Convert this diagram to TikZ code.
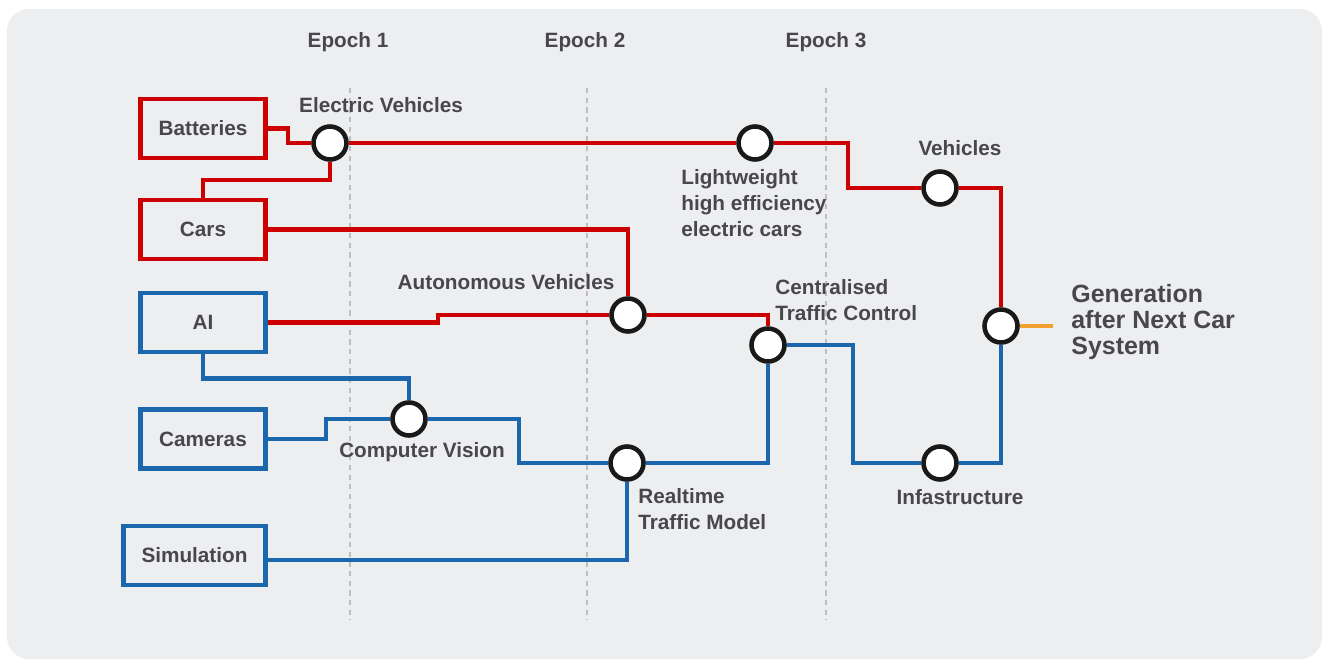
\documentclass[tikz,border=0pt]{standalone}
\usepackage{fontspec}
\setmainfont{Liberation Sans}
\usetikzlibrary{backgrounds}
\definecolor{bgray}{RGB}{237,238,240}
\definecolor{txtgray}{RGB}{72,72,74}
\definecolor{lred}{RGB}{204,0,0}
\definecolor{lblue}{RGB}{27,102,172}
\definecolor{lorange}{RGB}{242,160,48}
\definecolor{dashgray}{RGB}{190,190,192}
\begin{document}
\begin{tikzpicture}
		[	x=0.02cm,y=-0.02cm,
		box/.style={rectangle,draw,line width=2.4pt,fill=none,minimum width=2.5cm,minimum height=1.18cm,
			font=\bfseries\fontsize{11.8}{15}\selectfont,text=txtgray},
		stop/.style={circle,draw=black!90,line width=2.6pt,fill=white,minimum size=0.66cm,inner sep=0pt},
		lbl/.style={draw=none,fill=none,font=\bfseries\fontsize{11.8}{15}\selectfont,text=txtgray,inner sep=0pt},
		redline/.style={draw=lred,line width=2.3pt},
		blueline/.style={draw=lblue,line width=2.3pt},
		epochline/.style={draw=dashgray,line width=1.2pt,dash pattern=on 3pt off 2.5pt}
		]
		\useasboundingbox (0,0) rectangle (1324,661);
% boxes
		\node[box,draw=lred] (bat) at (203,128.5){Batteries};
		\node[box,draw=lred] (cars) at (203,229.5){Cars};
		\node[box,draw=lblue] (ai) at (203,322.5){AI};
		\node[box,draw=lblue] (cam) at (203,439){Cameras};
		\node[box,draw=lblue,minimum width=2.84cm] (sim) at (194.5,555.5){Simulation};
% stops
		\node[stop] (ev) at (330,143){};
		\node[stop] (light) at (755,143){};
		\node[stop] (veh) at (940,188){};
		\node[stop] (gen) at (1001,326){};
		\node[stop] (auto) at (628,315){};
		\node[stop] (cent) at (768,345){};
		\node[stop] (cv) at (409,419){};
		\node[stop] (rt) at (627,463){};
		\node[stop] (inf) at (940,463){};
% labels
\node[lbl] (ep1) at (348,42){Epoch 1};
\node[lbl] (ep2) at (585,42){Epoch 2};
\node[lbl] (ep3) at (826,42){Epoch 3};
\node[lbl] (evlbl) at (381,105){Electric Vehicles};
\node[lbl,align=left,anchor=west] (lightlbl) at (681,203){Lightweight\\high efficiency\\electric cars};
\node[lbl] (vehlbl) at (960,148){Vehicles};
\node[lbl] (autolbl) at (506,282){Autonomous Vehicles};
\node[lbl,align=left,anchor=west] (centlbl) at (775,300){Centralised\\Traffic Control};
\node[lbl] (cvlbl) at (422,452){Computer Vision};
\node[lbl,align=left,anchor=west] (rtlbl) at (638,509){Realtime\\Traffic Model};
\node[lbl] (inflbl) at (960,497){Infastructure};
\node[lbl,align=left,anchor=west,font=\bfseries\fontsize{14.2}{15}\selectfont] (genlbl) at (1071,322){Generation\\after Next Car\\System};
		\begin{pgfonlayer}{background}
		\fill[bgray,rounded corners=12.5pt] (7,9) rectangle (1322,659);
		\draw[epochline] (350,88) -- (350,620);
		\draw[epochline] (587,88) -- (587,620);
		\draw[epochline] (826,88) -- (826,620);
% red lines
		\draw[redline] (bat) -- ++(85,0) |- (ev);
		\draw[redline] (ev) -- ++(0,37) -| (cars);
		\draw[redline] (ev) -- (light) -- ++(93,0) |- (veh) -| (gen);
		\draw[redline] (cars) -| (auto);
		\draw[redline] (ai) -- ++(235,0) |- (auto) -| (cent);
% blue lines
		\draw[blueline] (ai) -- ++(0,56) -| (cv);
		\draw[blueline] (cam) -- ++(123,0) |- (cv) -- ++(110,0) |- (rt) -| (cent);
		\draw[blueline] ([yshift=-0.09cm]sim.east) -| (rt);
		\draw[blueline] (cent) -- ++(85,0) |- (inf) -| (gen);
		\draw[draw=lorange,line width=2.3pt] (gen) -- ++(52,0);
		\end{pgfonlayer}
\end{tikzpicture}
\end{document}
